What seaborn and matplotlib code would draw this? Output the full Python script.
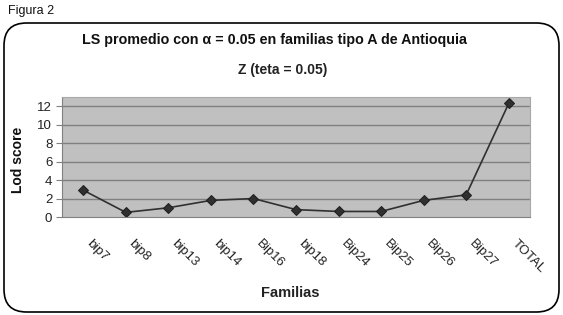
import numpy as np
import pandas as pd
import seaborn as sns
import matplotlib.pyplot as plt
from matplotlib.patches import FancyBboxPatch
from matplotlib.transforms import ScaledTranslation

# datos
familias = ["bip7", "bip8", "bip13", "bip14", "Bip16", "bip18",
            "Bip24", "Bip25", "Bip26", "Bip27", "TOTAL"]
lod = [2.9, 0.5, 1.0, 1.8, 2.0, 0.8, 0.6, 0.6, 1.8, 2.4, 12.3]
yticks = [0, 2, 4, 6, 8, 10, 12]

df = pd.DataFrame({"Familias": familias, "Lod": lod})

sns.set_style("white")
plt.rcParams["font.family"] = ["Liberation Sans", "DejaVu Sans"]

fig = plt.figure(figsize=(5.63, 3.15), dpi=100)
ax = fig.add_axes([62 / 563, 1 - 217 / 315, 468 / 563, 120 / 315])
ax.set_facecolor("#c0c0c0")

sns.lineplot(x="Familias", y="Lod", data=df, ax=ax, color="#303030",
             marker="D", markersize=5, linewidth=1.2, markeredgecolor="#202020")

ax.set_xlim(-0.5, len(familias) - 0.5)
ax.set_ylim(0, 13)
ax.set_yticks(yticks)
for y in yticks[1:]:
    ax.axhline(y, color="#808080", linewidth=1, zorder=0)

# etiquetas en el centro, marcas en los límites
ax.set_xticks(range(len(familias)))
ax.set_xticklabels(familias, rotation=-45, ha="left", va="top",
                   rotation_mode="anchor", fontsize=9.5, color="#222222")
ax.tick_params(axis="x", which="major", length=0, pad=15)
ax.set_xticks(np.arange(-0.5, len(familias)), minor=True)
ax.tick_params(axis="x", which="minor", length=4, color="#808080", direction="out")
ax.tick_params(axis="y", length=4, color="#808080", labelsize=9.5,
               labelcolor="#222222", pad=3, left=True)
for lbl in ax.get_xticklabels():
    lbl.set_transform(lbl.get_transform() + ScaledTranslation(9 / 100, 0, fig.dpi_scale_trans))

for side in ["left", "bottom"]:
    ax.spines[side].set_color("#808080")
for side in ["top", "right"]:
    ax.spines[side].set_color("#a8a8a8")

ax.set_xlabel("")
ax.set_ylabel("")
fig.text(290 / 563, 1 - 293 / 315, "Familias", ha="center", va="center",
         fontsize=10.5, fontweight="bold", color="#222222")
fig.text(18 / 563, 1 - 160 / 315, "Lod score", ha="center", va="center",
         rotation=90, fontsize=10, fontweight="bold", color="#111111")
fig.text(275 / 563, 1 - 40 / 315, "LS promedio con α = 0.05 en familias tipo A de Antioquia",
         ha="center", va="center", fontsize=10.3, fontweight="bold", color="#111111")
fig.text(283 / 563, 1 - 70 / 315, "Z (teta = 0.05)", ha="center", va="center",
         fontsize=10, fontweight="bold", color="#222222")
fig.text(8 / 563, 1 - 11 / 315, "Figura 2", ha="left", va="center",
         fontsize=9, color="#111111")

caja = FancyBboxPatch((4 / 563, 3 / 315), 555 / 563, 289 / 315,
                      boxstyle="round,pad=0,rounding_size=0.04",
                      transform=fig.transFigure, fill=False,
                      edgecolor="black", linewidth=1.2, mutation_aspect=563 / 315)
fig.patches.append(caja)

fig.savefig("out.png", dpi=100)
